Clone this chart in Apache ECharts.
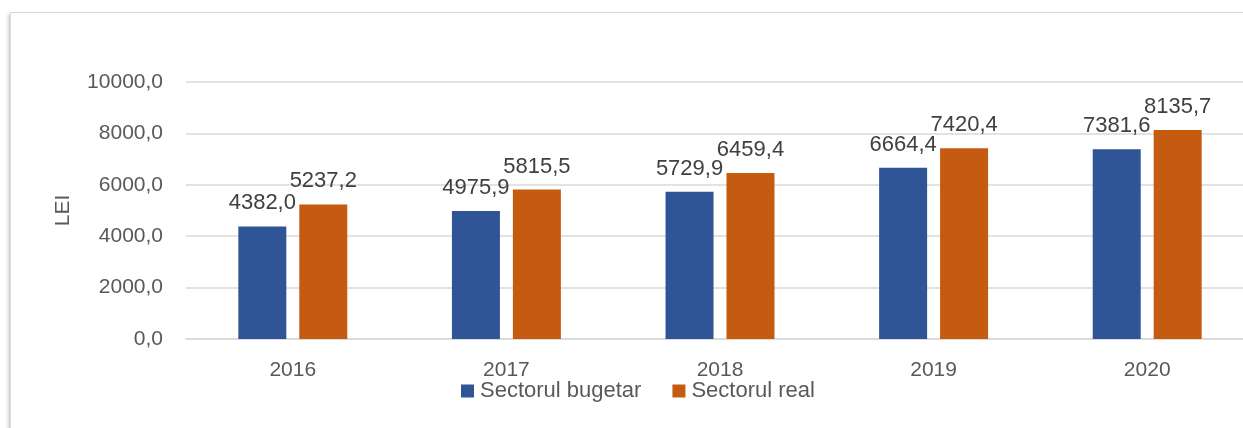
<!DOCTYPE html>
<html>
<head>
<meta charset="utf-8">
<script src="https://cdn.jsdelivr.net/npm/echarts@6/dist/echarts.min.js"></script>
<style>
html,body{margin:0;padding:0;background:#fff;overflow:hidden;}
#frame{position:absolute;left:10px;top:12px;width:1400px;height:600px;border:1px solid #d9d9d9;box-shadow:-2px 2px 3px rgba(0,0,0,0.18);background:#fff;}
#chart{position:absolute;left:0;top:0;width:1254px;height:428px;}
</style>
</head>
<body>
<div id="frame"></div>
<div id="chart"></div>
<script>
const categories = ['2016', '2017', '2018', '2019', '2020'];
const sectorulBugetar = [4382.0, 4975.9, 5729.9, 6664.4, 7381.6];
const sectorulReal = [5237.2, 5815.5, 6459.4, 7420.4, 8135.7];
const seriesNames = ['Sectorul bugetar', 'Sectorul real'];
const yAxisName = 'LEI';

const fmt = v => Number(v).toFixed(1).replace('.', ',');
const font = '"Liberation Sans", Arial, sans-serif';
const txt = '#595959';

const chart = echarts.init(document.getElementById('chart'), null, {renderer: 'canvas'});
const labelCfg = {
  show: true, position: 'top', distance: 12,
  color: '#404040', fontFamily: font, fontSize: 22,
  formatter: p => fmt(p.value)
};
chart.setOption({
  animation: false,
  backgroundColor: 'transparent',
  grid: {left: 186, right: 0, top: 82, bottom: 89, containLabel: false},
  legend: {
    data: seriesNames, left: 461, top: 380, padding: 0,
    itemWidth: 13, itemHeight: 13, itemGap: 31,
    icon: 'rect',
    textStyle: {color: txt, fontFamily: font, fontSize: 22, padding: [0, 0, 0, 1]}
  },
  xAxis: {
    type: 'category', data: categories,
    axisLine: {lineStyle: {color: '#d9d9d9', width: 1.5}},
    axisTick: {show: false},
    axisLabel: {color: txt, fontFamily: font, fontSize: 21, margin: 21}
  },
  yAxis: {
    type: 'value', min: 0, max: 10000, interval: 2000,
    name: yAxisName, nameLocation: 'middle', nameGap: 112, nameRotate: 90,
    nameTextStyle: {color: txt, fontFamily: font, fontSize: 21},
    axisLine: {show: false}, axisTick: {show: false},
    axisLabel: {color: txt, fontFamily: font, fontSize: 21, margin: 23, formatter: v => fmt(v)},
    splitLine: {lineStyle: {color: '#d9d9d9', width: 1.5}}
  },
  series: [
    {name: seriesNames[0], type: 'bar', data: sectorulBugetar, barWidth: 48, barGap: '27%',
     itemStyle: {color: '#2F5597'}, label: labelCfg},
    {name: seriesNames[1], type: 'bar', data: sectorulReal, barWidth: 48, barGap: '27%',
     itemStyle: {color: '#C55A11'}, label: labelCfg}
  ]
});
</script>
</body>
</html>
